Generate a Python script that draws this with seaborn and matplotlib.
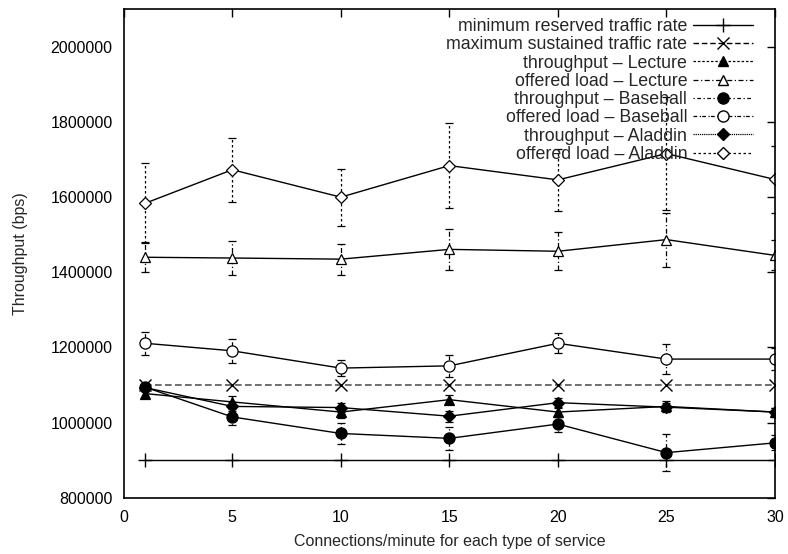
import matplotlib
matplotlib.use("Agg")
import matplotlib.pyplot as plt
import seaborn as sns
import pandas as pd
from matplotlib.lines import Line2D

# Connections per minute (x axis)
conns = [1, 5, 10, 15, 20, 25, 30]

# reference rates
min_reserved = [900000, 900000, 900000, 900000, 900000, 900000, 900000]
max_sustained = [1100000, 1100000, 1100000, 1100000, 1100000, 1100000, 1100000]

# Lecture
tput_lecture = [1077000, 1055000, 1028000, 1061000, 1028000, 1043000, 1028000]
tput_lecture_err = [8000, 15000, 15000, 12000, 12000, 15000, 10000]
load_lecture = [1440000, 1438000, 1435000, 1461000, 1456000, 1487000, 1445000]
load_lecture_err = [40000, 45000, 41000, 55000, 50000, 72000, 40000]

# Baseball
tput_baseball = [1094000, 1015000, 971000, 958000, 996000, 920000, 946000]
tput_baseball_err = [10000, 22000, 27000, 30000, 20000, 50000, 20000]
load_baseball = [1211000, 1191000, 1145000, 1151000, 1211000, 1169000, 1169000]
load_baseball_err = [30000, 32000, 21000, 30000, 27000, 40000, 30000]

# Aladdin
tput_aladdin = [1093000, 1043000, 1040000, 1017000, 1053000, 1041000, 1028000]
tput_aladdin_err = [8000, 12000, 12000, 15000, 12000, 12000, 12000]
load_aladdin = [1584000, 1673000, 1600000, 1684000, 1646000, 1716000, 1647000]
load_aladdin_err = [107000, 85000, 76000, 113000, 82000, 150000, 88000]

sns.set_style("white")
plt.rcParams["font.family"] = ["Liberation Sans", "DejaVu Sans"]
plt.rcParams["font.size"] = 11.5

fig = plt.figure(figsize=(7.88, 5.54), dpi=100)
ax = fig.add_axes([0.157, 0.1016, 0.8265, 0.8816])

# (label, values, errors, marker, filled, dash pattern for error bars / legend)
series = [
    ("throughput \u2013 Lecture", tput_lecture, tput_lecture_err, "^", True, (0, (2, 1.5))),
    ("offered load \u2013 Lecture", load_lecture, load_lecture_err, "^", False, (0, (4, 2, 1, 2))),
    ("throughput \u2013 Baseball", tput_baseball, tput_baseball_err, "o", True, (0, (1, 2, 3, 2))),
    ("offered load \u2013 Baseball", load_baseball, load_baseball_err, "o", False, (0, (3, 2, 1, 1))),
    ("throughput \u2013 Aladdin", tput_aladdin, tput_aladdin_err, "D", True, (0, (1, 0.7))),
    ("offered load \u2013 Aladdin", load_aladdin, load_aladdin_err, "D", False, (0, (2, 2))),
]
msize = {"^": 7, "o": 8, "D": 6.5}

# reference lines
df_min = pd.DataFrame({"conns": conns, "rate": min_reserved})
df_max = pd.DataFrame({"conns": conns, "rate": max_sustained})
sns.lineplot(data=df_min, x="conns", y="rate", ax=ax, color="black", lw=1,
             marker="+", markersize=10, markeredgewidth=1, markeredgecolor="black")
sns.lineplot(data=df_max, x="conns", y="rate", ax=ax, color="#555555", lw=1.2,
             linestyle=(0, (4, 2)), marker="x", markersize=9, markeredgewidth=1,
             markeredgecolor="black")

handles = [
    Line2D([], [], color="black", lw=1, marker="+", markersize=10),
    Line2D([], [], color="black", lw=1, linestyle=(0, (4, 2)), marker="x", markersize=9),
]
labels = ["minimum reserved traffic rate", "maximum sustained traffic rate"]

for label, vals, errs, mk, filled, dash in series:
    face = "black" if filled else "white"
    eb = ax.errorbar(conns, vals, yerr=errs, fmt="none", ecolor="black",
                     elinewidth=0.9, capsize=3, capthick=0.9)
    for coll in eb[2]:
        coll.set_linestyle(dash)
    d = pd.DataFrame({"conns": conns, "rate": vals})
    sns.lineplot(data=d, x="conns", y="rate", ax=ax, color="black", lw=1,
                 marker=mk, markersize=msize[mk], markerfacecolor=face,
                 markeredgecolor="black", markeredgewidth=0.9)
    handles.append(Line2D([], [], color="black", lw=0.9, linestyle=dash, marker=mk,
                          markersize=msize[mk], markerfacecolor=face,
                          markeredgecolor="black"))
    labels.append(label)

ax.set_xlim(0, 30)
ax.set_ylim(800000, 2100000)
ax.set_xticks([0, 5, 10, 15, 20, 25, 30])
ax.set_yticks([800000, 1000000, 1200000, 1400000, 1600000, 1800000, 2000000])
ax.ticklabel_format(axis="y", style="plain")
ax.tick_params(direction="in", length=6, width=1, top=True, right=True,
               labelsize=11.5, colors="black")
ax.tick_params(axis="x", pad=9)
ax.tick_params(axis="y", pad=8)
for sp in ax.spines.values():
    sp.set_color("black")
    sp.set_linewidth(1.2)

ax.set_xlabel("Connections/minute for each type of service", fontsize=11.5)
ax.set_ylabel("Throughput (bps)", fontsize=11.5)
ax.xaxis.set_label_coords(0.5, -0.074)
ax.yaxis.set_label_coords(-0.147, 0.5)

ax.legend(handles, labels, loc="upper right", bbox_to_anchor=(0.98, 1.0),
          frameon=False, markerfirst=False,
          handlelength=3.4, handletextpad=0.3, labelspacing=0.07,
          borderaxespad=0.1, fontsize=12.8)

fig.savefig("out.png", dpi=100)
